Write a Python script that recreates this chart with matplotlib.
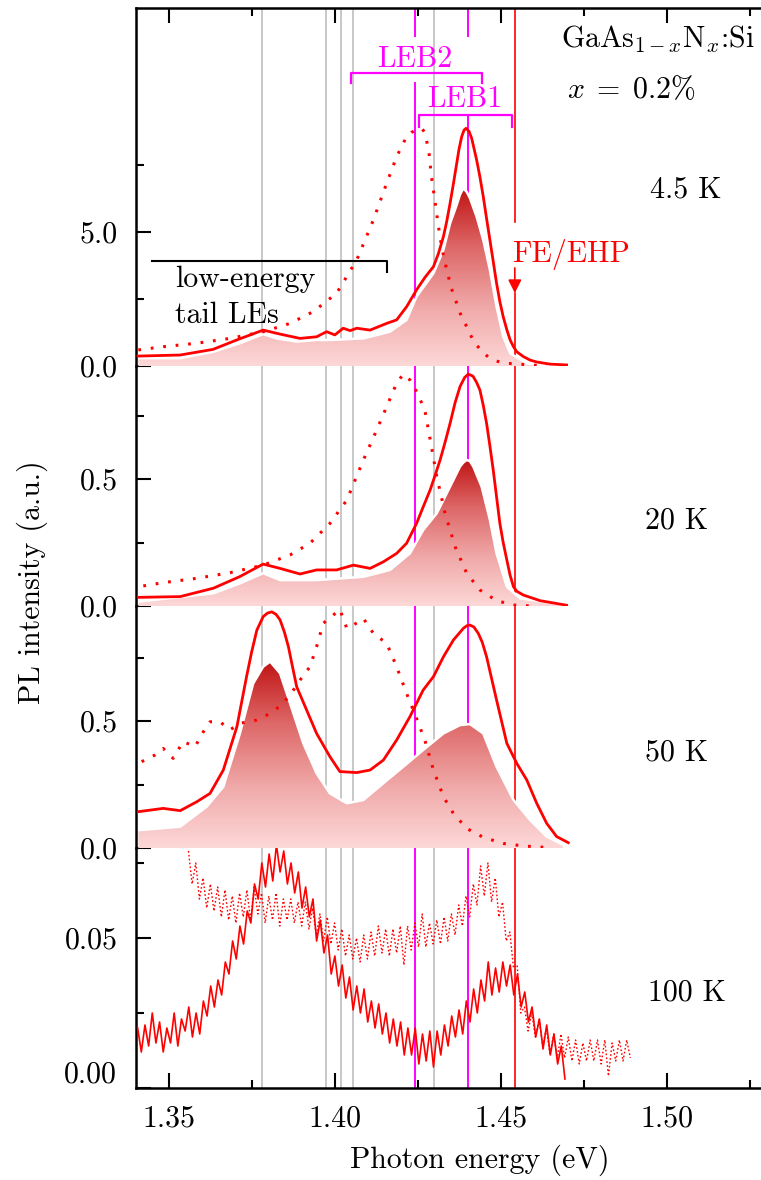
import numpy as np
import matplotlib
matplotlib.use("Agg")
import matplotlib.pyplot as plt
from matplotlib.colors import LinearSegmentedColormap
from matplotlib.patches import Polygon
from matplotlib.ticker import FixedLocator, FixedFormatter

plt.rcParams["font.family"] = "cmr10"
plt.rcParams["mathtext.fontset"] = "cm"
plt.rcParams["axes.formatter.use_mathtext"] = True
plt.rcParams["font.size"] = 21.5

# ---------------- data ----------------
# 4.5 K
e45_solid = [1.3406, 1.3533, 1.3632, 1.3703, 1.3783, 1.3834, 1.3894, 1.3944, 1.3974, 1.3999,
             1.4024, 1.4045, 1.4065, 1.4105, 1.4155, 1.4185, 1.4215, 1.4245, 1.4270, 1.4296,
             1.4311, 1.4326, 1.4336, 1.4346, 1.4356, 1.4366, 1.4373, 1.4381, 1.4388, 1.4394,
             1.4403, 1.4411, 1.4426, 1.4436, 1.4446, 1.4456, 1.4466, 1.4476, 1.4486, 1.4496,
             1.4506, 1.4517, 1.4527, 1.4537, 1.4547, 1.4567, 1.4587, 1.4607, 1.4647, 1.4697]
i45_solid = [0.37, 0.41, 0.62, 0.97, 1.34, 1.19, 1.03, 1.09, 1.28, 1.16,
             1.41, 1.32, 1.41, 1.34, 1.59, 1.72, 2.21, 2.84, 3.30, 3.71,
             4.20, 4.83, 5.40, 6.07, 6.80, 7.56, 8.10, 8.56, 8.80, 8.87,
             8.76, 8.50, 7.69, 7.05, 6.32, 5.50, 4.70, 3.90, 3.09, 2.40,
             1.84, 1.35, 0.97, 0.72, 0.53, 0.35, 0.22, 0.15, 0.07, 0.04]
e45_dot = [1.3407, 1.3482, 1.3583, 1.3683, 1.3784, 1.3864, 1.3934, 1.4004, 1.4065, 1.4115,
           1.4155, 1.4185, 1.4215, 1.4230, 1.4245, 1.4260, 1.4268, 1.4275, 1.4283, 1.4290,
           1.4300, 1.4311, 1.4322, 1.4336, 1.4350, 1.4366, 1.4380, 1.4396, 1.4410, 1.4426,
           1.4445, 1.4466, 1.4490, 1.4517, 1.4587, 1.4637]
i45_dot = [0.60, 0.72, 0.85, 1.03, 1.28, 1.59, 2.03, 2.71, 3.96, 5.45,
           6.82, 7.81, 8.56, 8.72, 8.81, 8.87, 8.75, 8.43, 7.90, 7.06,
           6.20, 5.20, 4.35, 3.58, 2.90, 2.34, 1.85, 1.47, 1.10, 0.78,
           0.50, 0.29, 0.17, 0.10, 0.04, 0.0]
e45_fill = [1.3407, 1.3533, 1.3633, 1.3713, 1.3783, 1.3824, 1.3884, 1.3944, 1.3984, 1.4085,
            1.4165, 1.4215, 1.4245, 1.4296, 1.4326, 1.4346, 1.4366, 1.4376, 1.4386, 1.4396,
            1.4406, 1.4426, 1.4446, 1.4466, 1.4486, 1.4506, 1.4527, 1.4577, 1.4637, 1.4697]
i45_fill = [0.29, 0.29, 0.53, 0.85, 1.19, 1.03, 0.91, 0.97, 0.97, 1.03,
            1.28, 1.72, 2.59, 3.46, 4.33, 5.32, 6.01, 6.40, 6.63, 6.50,
            6.26, 5.57, 4.70, 3.58, 2.21, 1.10, 0.47, 0.10, 0.04, 0.02]

# 20 K
e20_solid = [1.3407, 1.3533, 1.3633, 1.3713, 1.3783, 1.3834, 1.3894, 1.3944, 1.4004, 1.4055,
             1.4105, 1.4145, 1.4185, 1.4215, 1.4245, 1.4265, 1.4286, 1.4301, 1.4316, 1.4331,
             1.4346, 1.4361, 1.4376, 1.4390, 1.4401, 1.4415, 1.4426, 1.4436, 1.4446, 1.4456,
             1.4466, 1.4476, 1.4486, 1.4496, 1.4506, 1.4517, 1.4527, 1.4537, 1.4547, 1.4567,
             1.4617, 1.4697]
i20_solid = [0.034, 0.037, 0.070, 0.116, 0.165, 0.148, 0.126, 0.142, 0.142, 0.161,
             0.148, 0.174, 0.207, 0.247, 0.325, 0.390, 0.457, 0.515, 0.575, 0.645,
             0.719, 0.800, 0.864, 0.900, 0.913, 0.905, 0.880, 0.850, 0.790, 0.719,
             0.630, 0.535, 0.430, 0.325, 0.250, 0.181, 0.120, 0.076, 0.058, 0.043,
             0.021, 0.003]
e20_dot = [1.3422, 1.3482, 1.3583, 1.3683, 1.3783, 1.3864, 1.3924, 1.3984, 1.4035, 1.4085,
           1.4125, 1.4155, 1.4185, 1.4205, 1.4225, 1.4245, 1.4270, 1.4290, 1.4306, 1.4331,
           1.4361, 1.4396, 1.4436, 1.4486, 1.4537, 1.4587]
i20_dot = [0.079, 0.092, 0.109, 0.131, 0.161, 0.201, 0.247, 0.325, 0.417, 0.575,
           0.693, 0.785, 0.877, 0.913, 0.890, 0.844, 0.772, 0.627, 0.509, 0.365,
           0.234, 0.129, 0.063, 0.021, 0.004, 0.0]
e20_fill = [1.3407, 1.3633, 1.3713, 1.3783, 1.3834, 1.3944, 1.4085, 1.4165, 1.4225, 1.4265,
            1.4306, 1.4346, 1.4376, 1.4386, 1.4396, 1.4406, 1.4416, 1.4441, 1.4466, 1.4486,
            1.4517, 1.4557, 1.4697]
i20_fill = [0.017, 0.050, 0.089, 0.129, 0.102, 0.102, 0.115, 0.142, 0.207, 0.299,
            0.365, 0.470, 0.549, 0.565, 0.575, 0.570, 0.549, 0.470, 0.339, 0.207,
            0.076, 0.030, 0.004]

# 50 K
e50_solid = [1.3407, 1.3482, 1.3533, 1.3583, 1.3623, 1.3663, 1.3704, 1.3733, 1.3748, 1.3764,
             1.3783, 1.3796, 1.3809, 1.3822, 1.3834, 1.3847, 1.3859, 1.3872, 1.3884, 1.3914,
             1.3944, 1.3984, 1.4014, 1.4065, 1.4105, 1.4145, 1.4185, 1.4225, 1.4265, 1.4296,
             1.4326, 1.4356, 1.4386, 1.4396, 1.4406, 1.4418, 1.4431, 1.4443, 1.4456, 1.4486,
             1.4517, 1.4547, 1.4577, 1.4607, 1.4637, 1.4667, 1.4702]
i50_solid = [0.143, 0.156, 0.147, 0.182, 0.215, 0.307, 0.478, 0.675, 0.770, 0.858,
             0.911, 0.925, 0.930, 0.920, 0.898, 0.850, 0.793, 0.710, 0.635, 0.543,
             0.451, 0.360, 0.301, 0.297, 0.307, 0.346, 0.425, 0.517, 0.622, 0.675,
             0.753, 0.819, 0.865, 0.875, 0.878, 0.870, 0.845, 0.810, 0.753, 0.583,
             0.412, 0.333, 0.268, 0.176, 0.097, 0.045, 0.021]
e50_dot = [1.3417, 1.3457, 1.3482, 1.3512, 1.3542, 1.3578, 1.3603, 1.3623, 1.3653, 1.3683,
           1.3713, 1.3764, 1.3804, 1.3834, 1.3864, 1.3894, 1.3924, 1.3944, 1.3964, 1.3994,
           1.4014, 1.4035, 1.4055, 1.4085, 1.4115, 1.4155, 1.4185, 1.4215, 1.4245, 1.4270,
           1.4296, 1.4326, 1.4356, 1.4396, 1.4446, 1.4506, 1.4567, 1.4627]
i50_dot = [0.340, 0.366, 0.392, 0.353, 0.419, 0.399, 0.458, 0.497, 0.497, 0.465,
           0.491, 0.504, 0.530, 0.559, 0.602, 0.661, 0.714, 0.793, 0.885, 0.917,
           0.940, 0.865, 0.878, 0.904, 0.845, 0.806, 0.714, 0.609, 0.510, 0.425,
           0.307, 0.202, 0.136, 0.077, 0.042, 0.018, 0.008, 0.003]
e50_fill = [1.3407, 1.3533, 1.3613, 1.3663, 1.3713, 1.3753, 1.3783, 1.3804, 1.3834, 1.3864,
            1.3904, 1.3944, 1.3984, 1.4035, 1.4085, 1.4145, 1.4205, 1.4265, 1.4326, 1.4376,
            1.4406, 1.4446, 1.4486, 1.4537, 1.4587, 1.4637, 1.4687]
i50_fill = [0.070, 0.084, 0.163, 0.241, 0.451, 0.648, 0.714, 0.734, 0.688, 0.570,
            0.412, 0.294, 0.215, 0.176, 0.189, 0.255, 0.320, 0.386, 0.451, 0.484,
            0.488, 0.451, 0.320, 0.189, 0.110, 0.045, 0.012]

# 100 K (noisy spectra, uniform energy sampling)
e100_solid = np.linspace(1.3405, 1.4692, 118)
i100_solid = [0.020, 0.012, 0.021, 0.014, 0.025, 0.015, 0.022, 0.012, 0.020, 0.015,
              0.025, 0.014, 0.023, 0.019, 0.027, 0.017, 0.025, 0.018, 0.029, 0.024,
              0.034, 0.027, 0.036, 0.031, 0.042, 0.038, 0.049, 0.043, 0.054, 0.048,
              0.059, 0.055, 0.068, 0.063, 0.075, 0.067, 0.078, 0.069, 0.081, 0.072,
              0.079, 0.068, 0.075, 0.065, 0.072, 0.060, 0.067, 0.057, 0.063, 0.049,
              0.056, 0.045, 0.051, 0.038, 0.044, 0.034, 0.041, 0.030, 0.037, 0.026,
              0.034, 0.025, 0.033, 0.022, 0.029, 0.020, 0.028, 0.018, 0.025, 0.015,
              0.023, 0.014, 0.022, 0.011, 0.020, 0.011, 0.020, 0.008, 0.018, 0.009,
              0.019, 0.007, 0.019, 0.011, 0.021, 0.014, 0.024, 0.017, 0.026, 0.018,
              0.029, 0.022, 0.033, 0.025, 0.036, 0.029, 0.042, 0.031, 0.040, 0.032,
              0.042, 0.034, 0.041, 0.031, 0.038, 0.027, 0.032, 0.022, 0.027, 0.017,
              0.023, 0.013, 0.021, 0.011, 0.018, 0.008, 0.014, 0.003]
e100_dot = np.linspace(1.3558, 1.4889, 122)
i100_dot = [0.079, 0.068, 0.075, 0.063, 0.070, 0.060, 0.068, 0.059, 0.067, 0.057,
            0.066, 0.056, 0.064, 0.055, 0.065, 0.057, 0.066, 0.056, 0.067, 0.058,
            0.065, 0.055, 0.064, 0.056, 0.065, 0.054, 0.063, 0.056, 0.063, 0.055,
            0.062, 0.054, 0.062, 0.053, 0.060, 0.051, 0.058, 0.049, 0.057, 0.048,
            0.055, 0.046, 0.053, 0.044, 0.051, 0.043, 0.050, 0.042, 0.051, 0.043,
            0.052, 0.044, 0.054, 0.045, 0.053, 0.044, 0.053, 0.045, 0.054, 0.041,
            0.054, 0.046, 0.055, 0.047, 0.058, 0.047, 0.055, 0.048, 0.056, 0.048,
            0.057, 0.049, 0.058, 0.051, 0.061, 0.054, 0.064, 0.057, 0.068, 0.061,
            0.074, 0.064, 0.075, 0.062, 0.070, 0.057, 0.062, 0.049, 0.052, 0.040,
            0.041, 0.025, 0.027, 0.019, 0.025, 0.017, 0.023, 0.014, 0.020, 0.011,
            0.018, 0.010, 0.018, 0.010, 0.017, 0.009, 0.016, 0.008, 0.015, 0.009,
            0.016, 0.009, 0.016, 0.008, 0.016, 0.004, 0.015, 0.009, 0.016, 0.009,
            0.016, 0.010]

# characteristic energies (eV)
gray_lines = [1.3780, 1.3973, 1.4018, 1.4054, 1.4297]
leb2_line = 1.4241
leb1_line = 1.4400
fe_line = 1.4541

temps = ["4.5 K", "20 K", "50 K", "100 K"]

# ---------------- layout ----------------
W, H = 761, 1180
fig = plt.figure(figsize=(W / 100, H / 100), dpi=100)
left = 136 / W
rows = [(8, 366), (366, 606), (606, 848), (848, 1088)]
ylims = [(0, 13.36), (0, 0.945), (0, 0.953), (0, 0.08)]
axes = []
for (top, bot), yl in zip(rows, ylims):
    ax = fig.add_axes([left, 1 - bot / H, 1 - left, (bot - top) / H])
    ax.set_xlim(1.34, 1.34 + 625 / 3320)
    ax.set_ylim(*yl)
    ax.patch.set_alpha(0)
    for s in ax.spines.values():
        s.set_linewidth(1.8)
    ax.spines["right"].set_visible(False)
    axes.append(ax)
ax1, ax2, ax3, ax4 = axes

MAG = "#ff00ff"
GRAY = "#c4c4c4"
cmap = LinearSegmentedColormap.from_list(
    "pl", ["#fdd8d8", "#f0a8a8", "#de6868", "#c01414"])


def gradient_fill(ax, x, y):
    x = np.asarray(x)
    y = np.asarray(y)
    verts = [(x[0], 0)] + list(zip(x, y)) + [(x[-1], 0)]
    poly = Polygon(verts, closed=True, facecolor="none", edgecolor="none")
    ax.add_patch(poly)
    grad = np.linspace(0, 1, 256).reshape(-1, 1)
    im = ax.imshow(grad, extent=[x[0], x[-1], 0, y.max()], origin="lower",
                   cmap=cmap, aspect="auto", zorder=2, interpolation="bilinear")
    im.set_clip_path(poly)
    ax.plot(x, y, color="white", lw=1.8, zorder=2.5)


def vlines(ax, full=True):
    for e in gray_lines:
        ax.axvline(e, color=GRAY, lw=1.3, zorder=1)
    if full:
        for e in (leb2_line, leb1_line):
            ax.axvline(e, color=MAG, lw=1.4, zorder=1)
        ax.axvline(fe_line, color="red", lw=1.2, zorder=1)


for ax in (ax2, ax3, ax4):
    vlines(ax)

# top panel: lines interrupted by the annotations
vlines(ax1, full=False)
ymax1 = ylims[0][1]
ax1.axvline(leb2_line, 330 / 358, 1, color=MAG, lw=1.4, zorder=1)
ax1.axvline(leb2_line, 0, 10.56 / ymax1, color=MAG, lw=1.4, zorder=1)
ax1.axvline(leb1_line, 330 / 358, 1, color=MAG, lw=1.4, zorder=1)
ax1.axvline(leb1_line, 0, 9.37 / ymax1, color=MAG, lw=1.4, zorder=1)
ax1.axvline(fe_line, 5.38 / ymax1, 1, color="red", lw=1.2, zorder=1)
ax1.axvline(fe_line, 0, 2.72 / ymax1, color="red", lw=1.2, zorder=1)
ax1.annotate("", xy=(fe_line, 2.72), xytext=(fe_line, 3.66),
             arrowprops=dict(arrowstyle="-|>", color="red", lw=1.2,
                             mutation_scale=20, shrinkA=0, shrinkB=0))

# spectra
dot_style = (0, (0.9, 3.2))
for ax, ef, vf, es, vs, ed, vd in [
        (ax1, e45_fill, i45_fill, e45_solid, i45_solid, e45_dot, i45_dot),
        (ax2, e20_fill, i20_fill, e20_solid, i20_solid, e20_dot, i20_dot),
        (ax3, e50_fill, i50_fill, e50_solid, i50_solid, e50_dot, i50_dot)]:
    gradient_fill(ax, ef, vf)
    ax.plot(ed, vd, color="red", lw=2.2, ls=dot_style, zorder=3)
    ax.plot(es, vs, color="red", lw=2.0, zorder=4, solid_joinstyle="round")

ax4.plot(e100_dot, i100_dot, color="red", lw=1.0, ls=(0, (1.2, 1.6)), zorder=3)
ax4.plot(e100_solid, i100_solid, color="red", lw=1.2, zorder=4)

for ax, yl in zip(axes, ylims):
    ax.set_xlim(1.34, 1.34 + 625 / 3320)
    ax.set_ylim(*yl)

# ---------------- ticks ----------------
xmaj = [1.35, 1.40, 1.45, 1.50]
xmin = [1.375, 1.425, 1.475, 1.525]
for ax in axes:
    ax.xaxis.set_major_locator(FixedLocator(xmaj))
    ax.xaxis.set_minor_locator(FixedLocator(xmin))
    ax.tick_params(which="both", direction="in", width=1.5,
                   left=True, right=False, top=False, bottom=False,
                   labelbottom=False, labeltop=False)
    ax.tick_params(which="major", length=11, pad=13)
    ax.tick_params(which="minor", length=6)
ax1.tick_params(axis="x", which="both", top=True)
ax4.tick_params(axis="x", which="both", bottom=True, labelbottom=True, pad=12)
ax4.xaxis.set_major_formatter(FixedFormatter(["1.35", "1.40", "1.45", "1.50"]))

ytick_major = [[0, 5], [0, 0.5], [0, 0.5], [0, 0.05]]
ytick_minor = [[2.5, 7.5], [0.25, 0.75], [0.25, 0.75], [0.025, 0.075]]
ytick_text = [["0.0", "5.0"], ["0.0", "0.5"], ["0.0", "0.5"], ["", "0.05"]]
for ax, mj, mn, tx in zip(axes, ytick_major, ytick_minor, ytick_text):
    ax.yaxis.set_major_locator(FixedLocator(mj))
    ax.yaxis.set_minor_locator(FixedLocator(mn))
    ax.yaxis.set_major_formatter(FixedFormatter(tx))
ax4.annotate("0.00", xy=(0, 0), xycoords=("axes fraction", "data"),
             xytext=(-19, 13), textcoords="offset pixels",
             ha="right", va="center")

for ax in (ax1, ax2, ax3):
    ax.spines["bottom"].set_visible(False)
for ax in (ax2, ax3, ax4):
    ax.spines["top"].set_visible(False)

# ---------------- annotations ----------------
ax1.plot([1.4048, 1.4048, 1.4442, 1.4442], [10.56, 10.93, 10.93, 10.56],
         color=MAG, lw=1.6, clip_on=False, zorder=5)
ax1.plot([1.4252, 1.4252, 1.4533, 1.4533], [8.92, 9.37, 9.37, 8.92],
         color=MAG, lw=1.6, clip_on=False, zorder=5)
ax1.text(1.4240, 11.17, "LEB2", color=MAG, ha="center", va="baseline")
ax1.text(1.4389, 9.68, "LEB1", color=MAG, ha="center", va="baseline")
ax1.plot([1.3448, 1.4156, 1.4156], [3.92, 3.92, 3.51], color="black", lw=1.5,
         zorder=5)
ax1.text(1.3517, 2.95, "low-energy", ha="left", va="baseline")
ax1.text(1.3517, 1.60, "tail LEs", ha="left", va="baseline")
ax1.text(1.4532, 3.89, "FE/EHP", color="red", ha="left", va="baseline")
ax1.text(1.4680, 11.87, r"GaAs$_{1-x}$N$_x$:Si", ha="left", va="baseline")
ax1.text(1.4698, 9.99, r"$x\;=\;0.2\%$", ha="left", va="baseline")

temp_pos = [(1.4948, 6.27), (1.4933, 0.307), (1.4933, 0.346), (1.4942, 0.0293)]
for ax, t, (tx, ty) in zip(axes, temps, temp_pos):
    ax.text(tx, ty, t, ha="left", va="baseline")

fig.text(32 / W, 1 - 582 / H, "PL intensity (a.u.)", rotation=90,
         ha="center", va="center")
fig.text(480 / W, 1 - 1160 / H, "Photon energy (eV)", ha="center", va="center")

fig.savefig("out.png", dpi=100)
